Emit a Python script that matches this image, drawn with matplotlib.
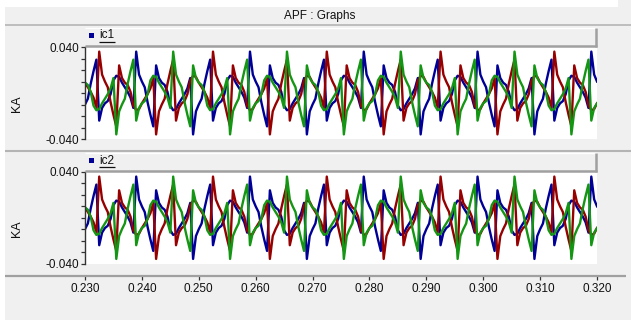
import numpy as np
import matplotlib.pyplot as plt
from matplotlib.patches import Rectangle
from matplotlib.lines import Line2D

W, H = 631, 320

# one 50 Hz cycle of each phase current, 40 samples of 0.5 ms (kA)
ia_cycle = [-0.010, -0.005, 0.008, 0.019, 0.029, -0.024, -0.013, -0.009, -0.007, -0.001,
            0.011, 0.015, 0.014, 0.009, 0.005, 0.001, -0.004, -0.013, 0.036, 0.016,
            0.010, 0.005, -0.008, -0.019, -0.029, 0.024, 0.013, 0.009, 0.007, 0.001,
            -0.011, -0.015, -0.014, -0.009, -0.005, -0.001, 0.004, 0.013, -0.036, -0.016]
ib_cycle = [0.009, 0.005, 0.001, -0.004, -0.013, 0.036, 0.016, 0.010, 0.005, -0.008,
            -0.019, -0.029, 0.024, 0.013, 0.009, 0.007, 0.001, -0.011, -0.015, -0.014,
            -0.009, -0.005, -0.001, 0.004, 0.013, -0.036, -0.016, -0.010, -0.005, 0.008,
            0.019, 0.029, -0.024, -0.013, -0.009, -0.007, -0.001, 0.011, 0.015, 0.014]
ic_cycle = [0.009, 0.007, 0.001, -0.011, -0.015, -0.014, -0.009, -0.005, -0.001, 0.004,
            0.013, -0.036, -0.016, -0.010, -0.005, 0.008, 0.019, 0.029, -0.024, -0.013,
            -0.009, -0.007, -0.001, 0.011, 0.015, 0.014, 0.009, 0.005, 0.001, -0.004,
            -0.013, 0.036, 0.016, 0.010, 0.005, -0.008, -0.019, -0.029, 0.024, 0.013]
t_start = 0.230
t_step = 0.0005
n_cycles = 5
x_ticks = [0.230, 0.240, 0.250, 0.260, 0.270, 0.280, 0.290, 0.300, 0.310, 0.320]
panel_names = ["ic1", "ic2"]
title = "APF : Graphs"

colors = ["#000096", "#960000", "#149614"]
font = "Liberation Sans"

n = int(round((x_ticks[-1] - t_start) / t_step)) + 1
t = t_start + t_step * np.arange(n)
phases = [np.tile(c, n_cycles)[:n] for c in (ia_cycle, ib_cycle, ic_cycle)]

fig = plt.figure(figsize=(W / 100, H / 100), dpi=100)
fig.patch.set_facecolor("#F0F0F0")


def box(x0, y0, x1, y1):
    return [x0 / W, 1 - y1 / H, (x1 - x0) / W, (y1 - y0) / H]


def rect(x0, y0, x1, y1, color, z=-5):
    fig.add_artist(Rectangle((x0 / W, 1 - y1 / H), (x1 - x0) / W, (y1 - y0) / H,
                             transform=fig.transFigure, facecolor=color,
                             edgecolor="none", zorder=z))


def line(xs, ys, color, lw):
    fig.add_artist(Line2D([x / W for x in xs], [1 - y / H for y in ys],
                          transform=fig.transFigure, color=color, lw=lw,
                          solid_capstyle="butt"))


# white margins at the top and left
rect(0, 0, 618, 7, "white")
rect(0, 0, 5, H, "white")

fig.text(320 / W, 1 - 16.5 / H, title, ha="center", va="center",
         fontsize=8.5, family=font, color="#111111")
line([5, W], [25, 25], "#B4B4B4", 1.2)
line([5, W], [150.5, 150.5], "#B4B4B4", 1.5)
line([5, 626], [275.5, 275.5], "#A0A0A0", 1.6)

panels = [(28, 47, 139), (153, 172, 263.5)]
for i, (name, (hy, y0, y1)) in enumerate(zip(panel_names, panels)):
    # header strip with the legend entry
    rect(85, hy, 597, y0 - 1, "#F0F0F0", z=-4)
    line([85, 597], [hy, hy], "white", 1)
    line([85, 597], [y0 - 1.2, y0 - 1.2], "#A0A0A0", 1.8)
    line([596.3, 596.3], [hy, y0 - 0.5], "#A0A0A0", 1.8)
    rect(88.5, hy + 4.5, 93.5, hy + 9.5, colors[0], z=3)
    fig.text(99 / W, 1 - (hy + 7.5) / H, name, ha="left", va="center",
             fontsize=8.5, family=font, color="#111111")
    line([99, 115.5], [hy + 13.8, hy + 13.8], "#111111", 0.9)

    ax = fig.add_axes(box(85, y0, 597, y1))
    ax.set_facecolor("white")
    for tr, c in zip(phases, colors):
        ax.plot(t, tr, color=c, lw=1.7, solid_joinstyle="round")
    ax.set_xlim(x_ticks[0], x_ticks[-1])
    ax.set_ylim(-0.04, 0.04)
    for s in ("top", "right"):
        ax.spines[s].set_visible(False)
    ax.spines["left"].set_color("#333333")
    ax.spines["left"].set_linewidth(1.0)

    yt = np.round(np.arange(-0.04, 0.0401, 0.01), 3)
    ax.set_yticks(yt)
    ax.set_yticklabels(["-0.040" if v == -0.04 else "0.040" if v == 0.04 else "" for v in yt],
                       family=font, fontsize=8.5, color="#111111")
    ax.tick_params(axis="y", direction="out", length=3, width=0.9, pad=1.5, color="#333333")

    if i == 0:
        ax.spines["bottom"].set_visible(False)
        ax.set_xticks([])
    else:
        ax.spines["bottom"].set_position(("outward", 8.6))
        ax.spines["bottom"].set_visible(False)
        ax.set_xticks(x_ticks)
        ax.set_xticklabels([f"{v:.3f}" for v in x_ticks], family=font,
                           fontsize=8.5, color="#111111")
        ax.tick_params(axis="x", direction="out", length=3.6, width=0.9,
                       pad=1.5, color="#333333")

    fig.text(17 / W, 1 - ((y0 + y1) / 2 + 11) / H, "KA", rotation=90,
             ha="center", va="center", fontsize=9, family=font, color="#111111")

fig.savefig("out.png", dpi=100, facecolor=fig.get_facecolor())
